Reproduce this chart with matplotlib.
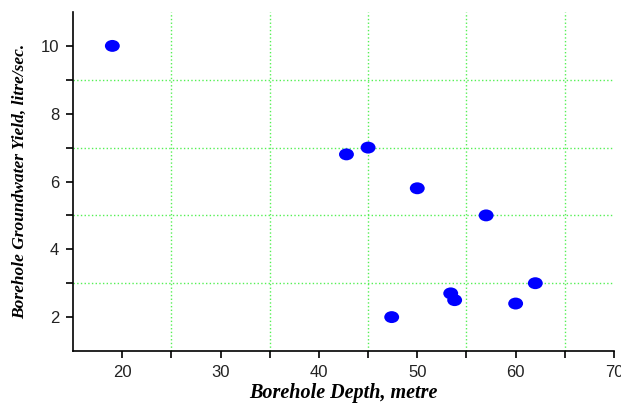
import matplotlib
matplotlib.use("Agg")
import matplotlib.pyplot as plt
from matplotlib.path import Path
from matplotlib.transforms import Affine2D

depth = [19, 42.8, 45, 50, 57, 47.4, 53.4, 53.8, 60, 62]
yield_ = [10, 6.8, 7, 5.8, 5, 2, 2.7, 2.5, 2.4, 3]

xticks = [20, 30, 40, 50, 60, 70]
yticks = [2, 4, 6, 8, 10]
xminor = [25, 35, 45, 55, 65]
yminor = [3, 5, 7, 9]

fig = plt.figure(figsize=(6.21, 4.04), dpi=100)
ax = fig.add_axes([73/621, 1-351/404, (614-73)/621, (351-12)/404])

ellipse = Path.unit_circle().transformed(Affine2D().scale(1.25, 1.0))
ax.scatter(depth, yield_, marker=ellipse, s=115, color='#0000ff', edgecolors='none', zorder=3)

ax.set_xlim(15, 70)
ax.set_ylim(1, 11)
ax.set_xticks(xticks)
ax.set_yticks(yticks)
ax.set_xticks(xminor, minor=True)
ax.set_yticks(yminor, minor=True)

ax.grid(which='minor', color='#55f055', linestyle=':', linewidth=1.0)
ax.grid(which='major', visible=False)

for s in ['top', 'right']:
    ax.spines[s].set_visible(False)
for s in ['left', 'bottom']:
    ax.spines[s].set_linewidth(1.2)
    ax.spines[s].set_color('black')

ax.tick_params(which='both', direction='out', length=5, width=1.2, colors='black')
ax.tick_params(which='major', labelsize=12, pad=5, labelcolor='#222222')
for lab in ax.get_xticklabels() + ax.get_yticklabels():
    lab.set_family('Liberation Sans')

ax.set_xlabel('Borehole Depth, metre', family='Liberation Serif', style='italic',
              weight='bold', fontsize=14.5, labelpad=2)
ax.set_ylabel('Borehole Groundwater Yield, litre/sec.', family='Liberation Serif', style='italic',
              weight='bold', fontsize=12.5, labelpad=9)

fig.savefig('out.png', dpi=100)
